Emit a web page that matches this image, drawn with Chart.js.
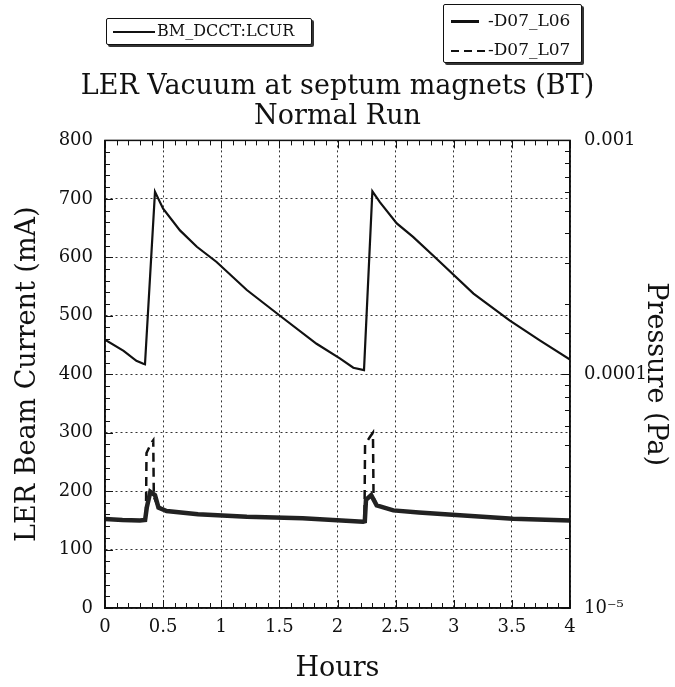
<!DOCTYPE html>
<html>
<head>
<meta charset="utf-8">
<script src="https://cdn.jsdelivr.net/npm/chart.js@4.4.1/dist/chart.umd.min.js"></script>
<style>
  html, body { margin: 0; padding: 0; background: #fff; }
  #wrap { position: relative; width: 675px; height: 687px; }
  .lg { position: absolute; border: 1.5px solid #111; box-shadow: 2px 2px 0 #333; background: #fff; border-radius: 2px; }
  .lg span { position: absolute; display: block; }
  .txt { font-family: "DejaVu Serif", serif; color: #111; white-space: nowrap; }
</style>
</head>
<body>
<div id="wrap">
  <canvas id="c" width="675" height="687"></canvas>

  <!-- legend for the beam current -->
  <div class="lg" style="left:106px;top:18px;width:204px;height:25px;">
    <span style="left:6px;top:12px;width:42px;height:0;border-top:2px solid #111;"></span>
    <span class="txt" style="left:50px;top:2px;font-size:16px;line-height:20px;">BM_DCCT:LCUR</span>
  </div>

  <!-- legend for the two gauges -->
  <div class="lg" style="left:443px;top:4px;width:137px;height:57px;">
    <span style="left:7px;top:15px;width:28px;height:3px;background:#111;"></span>
    <span class="txt" style="left:44px;top:5px;font-size:17px;line-height:20px;">-D07_L06</span>
    <span style="left:7px;top:45px;width:38px;height:2px;background:repeating-linear-gradient(90deg,#111 0 8px,transparent 8px 13px);"></span>
    <span class="txt" style="left:44px;top:34px;font-size:17px;line-height:20px;">-D07_L07</span>
  </div>
</div>

<script>
// LER beam current (mA)
const currentHours  = [0, 0.16, 0.27, 0.33, 0.344, 0.43, 0.50, 0.645, 0.79, 0.96, 1.22, 1.505, 1.82, 2.02, 2.136, 2.228, 2.30, 2.366, 2.51, 2.65, 2.85, 3.17, 3.48, 3.74, 4.0];
const currentValues = [459, 440, 423, 418, 417, 712, 683, 646, 618, 592, 544, 500, 452, 427, 411, 407, 713, 694, 658, 635, 598, 538, 492, 458, 425];

// pressure at D07_L06 (Pa)
const l06Hours  = [0, 0.15, 0.30, 0.345, 0.36, 0.39, 0.43, 0.46, 0.53, 0.80, 1.22, 1.70, 2.22, 2.235, 2.245, 2.29, 2.337, 2.48, 2.70, 3.02, 3.51, 4.0];
const l06Values = [2.40e-5, 2.38e-5, 2.37e-5, 2.38e-5, 2.70e-5, 3.14e-5, 3.04e-5, 2.69e-5, 2.60e-5, 2.52e-5, 2.455e-5, 2.42e-5, 2.34e-5, 2.35e-5, 2.90e-5, 3.04e-5, 2.75e-5, 2.615e-5, 2.56e-5, 2.50e-5, 2.41e-5, 2.37e-5];

// pressure at D07_L07 (Pa)
const l07Hours  = [0, 0.30, 0.352, 0.357, 0.40, 0.415, 0.42, 0.46, 0.53, 0.80, 1.22, 1.70, 2.22, 2.232, 2.237, 2.28, 2.305, 2.31, 2.337, 2.48, 2.70, 3.02, 3.51, 4.0];
const l07Values = [2.40e-5, 2.37e-5, 2.38e-5, 4.60e-5, 5.10e-5, 5.22e-5, 2.99e-5, 2.69e-5, 2.60e-5, 2.52e-5, 2.455e-5, 2.42e-5, 2.34e-5, 2.35e-5, 5.00e-5, 5.40e-5, 5.62e-5, 2.99e-5, 2.75e-5, 2.615e-5, 2.56e-5, 2.50e-5, 2.41e-5, 2.37e-5];

const titleText = 'LER Vacuum at septum magnets (BT)';
const subtitleText = 'Normal Run';
const xTitle = 'Hours';
const yTitle = 'LER Beam Current (mA)';
const pTitle = 'Pressure (Pa)';

const FONT = '"DejaVu Serif", serif';
const INK = '#111';

function pts(xs, ys) {
    return xs.map((x, i) => ({ x: x, y: ys[i] }));
}

function isDecade(v) {
    const l = Math.log10(v);
    return Math.abs(l - Math.round(l)) < 1e-6;
}

// inward minor ticks on all four sides + solid frame
const frameTicks = {
    id: 'frameTicks',
    afterDatasetsDraw(chart) {
        const { ctx, chartArea: a, scales } = chart;
        ctx.save();
        ctx.strokeStyle = INK;
        ctx.lineWidth = 1;
        ctx.beginPath();
        for (let v = 0; v <= 800; v += 20) {
            const py = Math.round(scales.y.getPixelForValue(v)) + 0.5;
            const len = v % 100 === 0 ? 8 : 5;
            ctx.moveTo(a.left, py);
            ctx.lineTo(a.left + len, py);
        }
        scales.yP.ticks.forEach(t => {
            const py = Math.round(scales.yP.getPixelForValue(t.value)) + 0.5;
            const len = isDecade(t.value) ? 8 : 5;
            ctx.moveTo(a.right, py);
            ctx.lineTo(a.right - len, py);
        });
        for (let i = 0; i <= 40; i++) {
            const px = Math.round(scales.x.getPixelForValue(i / 10)) + 0.5;
            const len = i % 5 === 0 ? 8 : 5;
            ctx.moveTo(px, a.bottom);
            ctx.lineTo(px, a.bottom - len);
            ctx.moveTo(px, a.top);
            ctx.lineTo(px, a.top + len);
        }
        ctx.stroke();
        ctx.lineWidth = 1.5;
        ctx.strokeRect(a.left, a.top, a.width, a.height);
        ctx.restore();
    }
};

new Chart(document.getElementById('c').getContext('2d'), {
    type: 'line',
    data: {
        datasets: [
            {
                label: 'BM_DCCT:LCUR',
                data: pts(currentHours, currentValues),
                yAxisID: 'y',
                borderColor: INK,
                borderWidth: 2.2
            },
            {
                label: '-D07_L06',
                data: pts(l06Hours, l06Values),
                yAxisID: 'yP',
                borderColor: '#222',
                borderWidth: 4.5
            },
            {
                label: '-D07_L07',
                data: pts(l07Hours, l07Values),
                yAxisID: 'yP',
                borderColor: INK,
                borderWidth: 2.5,
                borderDash: [9, 6]
            }
        ]
    },
    options: {
        responsive: false,
        animation: false,
        layout: { padding: 0 },
        elements: {
            point: { radius: 0 },
            line: { tension: 0, fill: false }
        },
        plugins: {
            legend: { display: false },
            tooltip: { enabled: false },
            title: {
                display: true,
                text: titleText,
                color: INK,
                font: { family: FONT, size: 27, weight: 'normal', lineHeight: 1.1 },
                padding: { top: 72, bottom: 0 }
            },
            subtitle: {
                display: true,
                text: subtitleText,
                color: INK,
                font: { family: FONT, size: 27, weight: 'normal', lineHeight: 1.1 },
                padding: { top: 0, bottom: 9 }
            }
        },
        scales: {
            x: {
                type: 'linear',
                min: 0,
                max: 4,
                ticks: {
                    stepSize: 0.5,
                    color: INK,
                    padding: 9,
                    maxRotation: 0,
                    font: { family: FONT, size: 18 },
                    callback: v => String(v)
                },
                grid: { color: '#333', lineWidth: 1, drawTicks: false },
                border: { color: INK, width: 1.5, dash: [2, 3] },
                title: { display: true, text: xTitle, color: INK, font: { family: FONT, size: 27 }, padding: { top: 0, bottom: 2 } },
                afterFit(scale) { scale.height = 79; }
            },
            y: {
                position: 'left',
                min: 0,
                max: 800,
                ticks: { stepSize: 100, color: INK, padding: 12, font: { family: FONT, size: 18 } },
                grid: { color: '#333', lineWidth: 1, drawTicks: false },
                border: { color: INK, width: 1.5, dash: [2, 3] },
                title: { display: true, text: yTitle, color: INK, font: { family: FONT, size: 27 }, padding: { top: 12, bottom: 0 } },
                afterFit(scale) { scale.width = 105; }
            },
            yP: {
                type: 'logarithmic',
                position: 'right',
                min: 1e-5,
                max: 1e-3,
                ticks: {
                    autoSkip: false,
                    color: INK,
                    padding: 14,
                    font: { family: FONT, size: 18 },
                    callback: v => {
                        if (!isDecade(v)) return '';
                        const e = Math.round(Math.log10(v));
                        if (e === -5) return '10\u207B\u2075';
                        return e === -4 ? '0.0001' : '0.001';
                    }
                },
                grid: { drawOnChartArea: false, drawTicks: false },
                border: { color: INK, width: 1.5 },
                title: { display: true, text: pTitle, color: INK, font: { family: FONT, size: 27 }, padding: { top: 4, bottom: 0 } },
                afterFit(scale) { scale.width = 105; }
            }
        }
    },
    plugins: [frameTicks]
});
</script>
</body>
</html>
